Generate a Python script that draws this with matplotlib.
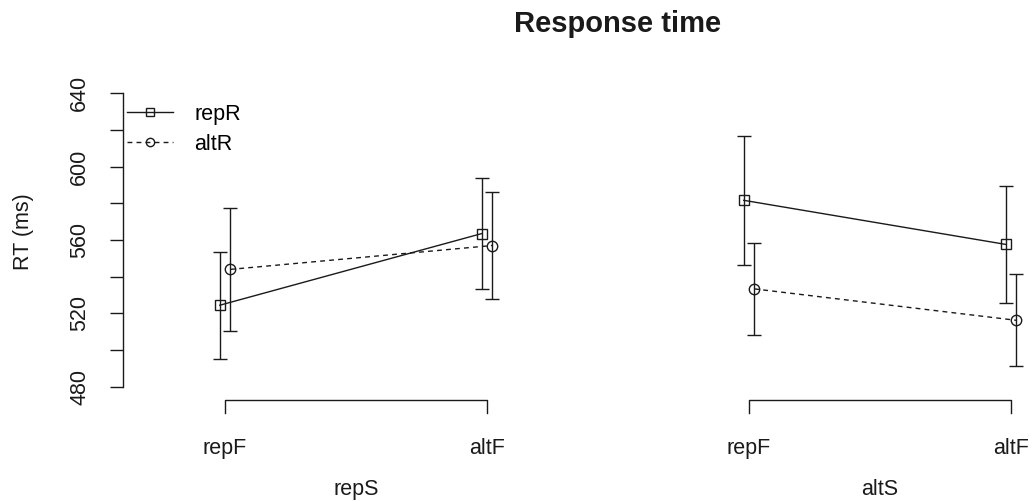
import matplotlib
matplotlib.use('Agg')
from matplotlib import pyplot as plt
from matplotlib import transforms
import numpy as np

plt.rcParams['font.family'] = ['Liberation Sans', 'DejaVu Sans']

# data
groups = ['repS', 'altS']
levels = ['repF', 'altF']
series = ['repR', 'altR']

repR_mean = [524.5, 563.5, 581.6, 557.6]
repR_err = [29.2, 30.2, 35.2, 31.7]
altR_mean = [544.0, 557.0, 533.4, 516.3]
altR_err = [33.5, 29.3, 25.1, 25.0]

yticks = [480, 500, 520, 540, 560, 580, 600, 620, 640]
ytick_labels = ['480', '', '520', '', '560', '', '600', '', '640']

W, H = 1032, 501
FS = 15.5
fig = plt.figure(figsize=(W / 100, H / 100), dpi=100)

# axes placed so 480..640 spans the same pixels as the reference
ax = fig.add_axes([123 / W, 1 - 387 / H, (W - 123) / W, (387 - 93) / H])

pos = np.arange(1, len(groups) * len(levels) + 1)
ax.set_xlim(1 - 102 / 262, 1 + 807 / 262)
ax.set_ylim(480, 640)

off = 0.02
styles = {
    'repR': dict(ls='-', marker='s', x_off=-off, mean=repR_mean, err=repR_err),
    'altR': dict(ls=(0, (3.5, 3)), marker='o', x_off=off, mean=altR_mean, err=altR_err),
}

handles = []
for name in series:
    st = styles[name]
    xs = pos + st['x_off']
    mean = np.array(st['mean'])
    err = np.array(st['err'])
    for g in range(len(groups)):
        sl = slice(g * 2, g * 2 + 2)
        ln, = ax.plot(xs[sl], mean[sl], color='#1a1a1a', lw=1.0, ls=st['ls'],
                      marker=st['marker'], ms=7.5, mfc='none', mec='#1a1a1a',
                      mew=1.0, clip_on=False, label=name if g == 0 else None)
        if g == 0:
            handles.append(ln)
    ax.errorbar(xs, mean, yerr=err, fmt='none', ecolor='#1a1a1a', elinewidth=1.0,
                capsize=5.2, capthick=1.0, clip_on=False)

# y axis in R style
for s in ['top', 'right', 'bottom']:
    ax.spines[s].set_visible(False)
ax.spines['left'].set_color('#1a1a1a')
ax.spines['left'].set_linewidth(1.0)
ax.set_yticks(yticks)
ax.set_yticklabels(ytick_labels, rotation=90, va='center', fontsize=FS)
ax.tick_params(axis='y', length=9.5, width=1.0, pad=14, colors='#1a1a1a')
ax.set_xticks([])

# x brackets per group, below the plot region
tr = transforms.blended_transform_factory(ax.transData, ax.transAxes)
y_line = -13 / 294
y_tick = -26 / 294
for g, gname in enumerate(groups):
    x0, x1 = pos[g * 2], pos[g * 2 + 1]
    ax.plot([x0, x0, x1, x1], [y_tick, y_line, y_line, y_tick], transform=tr,
            color='#1a1a1a', lw=1.0, clip_on=False)
    for x, lab in zip([x0, x1], levels):
        ax.text(x, -(454 - 387) / 294, lab, transform=tr, ha='center',
                va='baseline', fontsize=FS, color='#1a1a1a')
    ax.text((x0 + x1) / 2, -(495 - 387) / 294, gname, transform=tr,
            ha='center', va='baseline', fontsize=FS, color='#1a1a1a')

leg = ax.legend(handles=handles, loc='upper left', bbox_to_anchor=(0.004, 0.963),
                frameon=False, fontsize=FS, handlelength=2.15, handletextpad=1.0,
                labelspacing=0.42, borderpad=0, borderaxespad=0)
for h in leg.legend_handles:
    h.set_markersize(6)

fig.text(24 / W, 1 - 232 / H, 'RT (ms)', rotation=90, ha='center', va='center',
         fontsize=FS, color='#1a1a1a')
fig.text(618 / W, 1 - 32 / H, 'Response time', ha='center', va='baseline',
         fontsize=21, fontweight='bold', color='#1a1a1a')

fig.savefig('out.png', dpi=100)
